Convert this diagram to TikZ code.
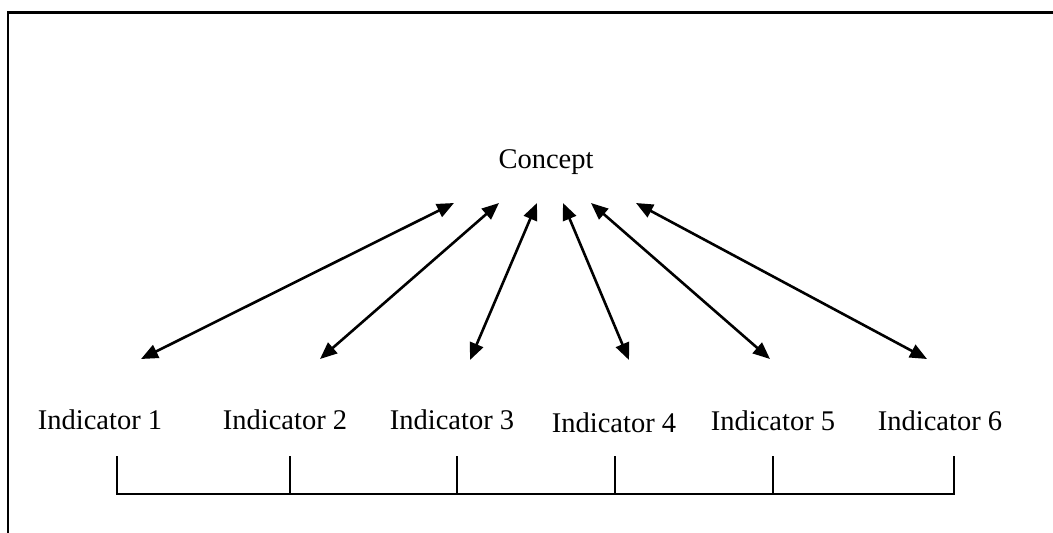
\documentclass[tikz,border=0pt]{standalone}
\usepackage{fontspec}
\setmainfont{Liberation Serif}
\usetikzlibrary{arrows.meta}
\begin{document}
\begin{tikzpicture}[x=1pt,y=-1pt,
  frameline/.style={line width=2.2pt,line cap=rect},
  link/.style={line width=2.6pt,{Triangle[length=17pt,width=14pt]}-{Triangle[length=17pt,width=14pt]}},
  bracket/.style={line width=2.2pt},
  label/.style={font=\fontsize{28.5}{32}\selectfont,inner sep=0pt,anchor=base}]
\useasboundingbox (0,0) rectangle (1053,533);
% open frame: top and left edges only
\coordinate (fTR) at (1053,12.5);
\coordinate (fTL) at (8,12.5);
\coordinate (fBL) at (8,533);
\draw[frameline] (fTR) -- (fTL) -- (fBL);
% labels
\node[label] (concept) at (546,168) {Concept};
\node[label] (ind1) at (100,429) {Indicator 1};
\node[label] (ind2) at (285,429) {Indicator 2};
\node[label] (ind3) at (452,429) {Indicator 3};
\node[label] (ind4) at (614,432) {Indicator 4};
\node[label] (ind5) at (773,430) {Indicator 5};
\node[label] (ind6) at (940,430) {Indicator 6};
% arrow ends near the concept
\coordinate (c1) at (454,203);
\coordinate (c2) at (499,203);
\coordinate (c3) at (537,203);
\coordinate (c4) at (563,203);
\coordinate (c5) at (591,203);
\coordinate (c6) at (636,203);
% arrow ends above the indicators
\coordinate (a1) at (141,359);
\coordinate (a2) at (320,359);
\coordinate (a3) at (470,360);
\coordinate (a4) at (629,360);
\coordinate (a5) at (770,359);
\coordinate (a6) at (927,359);
\foreach \i in {1,...,6} \draw[link] (c\i) -- (a\i);
% bracket below the indicators
\foreach \i/\x in {1/117,2/290,3/457,4/615,5/773,6/954} {
  \coordinate (t\i) at (\x,456);
  \coordinate (b\i) at (\x,494);
  \draw[bracket] (t\i) -- (b\i);
}
\draw[bracket,line cap=rect] (b1) -- (b6);
\end{tikzpicture}
\end{document}
